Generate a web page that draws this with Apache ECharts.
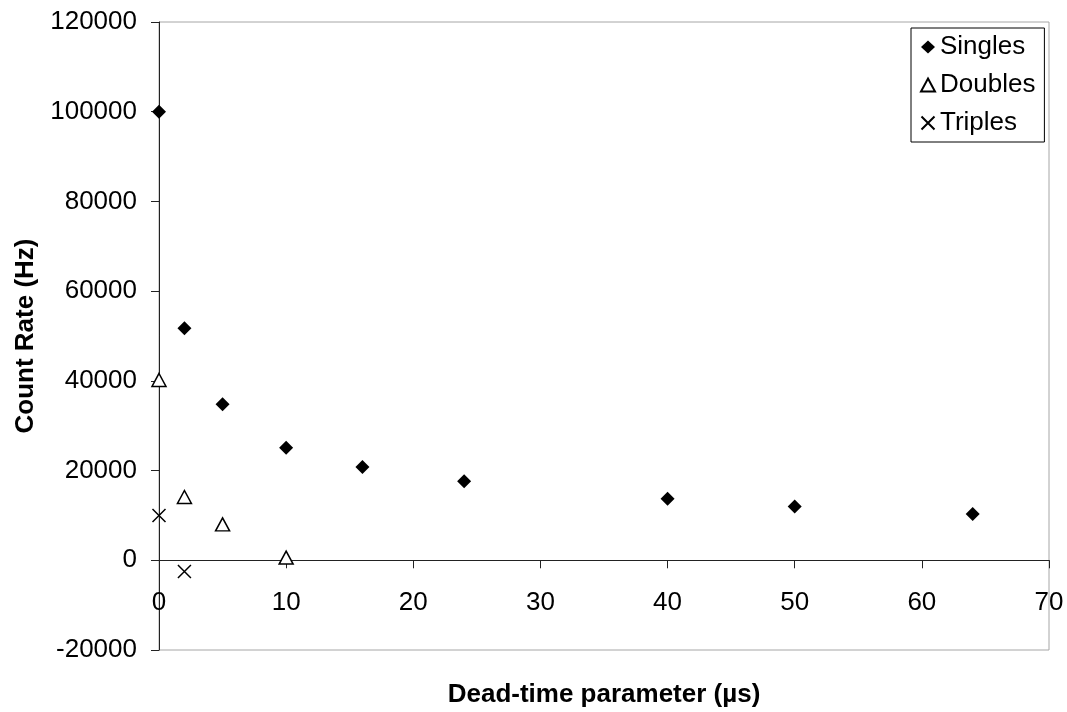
<!DOCTYPE html>
<html>
<head>
<meta charset="utf-8">
<title>Count rate vs dead-time parameter</title>
<script src="https://cdn.jsdelivr.net/npm/echarts@6/dist/echarts.min.js"></script>
<style>
  html, body { margin: 0; padding: 0; background: #fff; }
  #chart { width: 1067px; height: 712px; }
</style>
</head>
<body>
<div id="chart"></div>
<script>
// data
var seriesNames = ['Singles', 'Doubles', 'Triples'];
var singlesX = [0, 2, 5, 10, 16, 24, 40, 50, 64];
var singlesY = [100000, 51700, 34800, 25100, 20800, 17600, 13700, 12000, 10300];
var doublesX = [0, 2, 5, 10];
var doublesY = [40200, 14100, 8000, 600];
var triplesX = [0, 2];
var triplesY = [10000, -2500];

var xTicks = { min: 0, max: 70, step: 10 };
var yTicks = { min: -20000, max: 120000, step: 20000 };

var FONT = '"Liberation Sans", Arial, sans-serif';
var FS = 26;

function pairs (xs, ys) {
  var res = [];
  xs.forEach(function (x, i) {
    res.push([x, ys[i]]);
  });
  return res;
}

// plain numbers, no thousand separators
function plain (v) {
  return '' + v;
}

(function () {
  var myChart = echarts.init(document.getElementById('chart'), null, { renderer: 'canvas' });

  var axisCommon = {
    type: 'value',
    splitLine: { show: false },
    axisLine: { show: true, onZero: true, lineStyle: { color: '#222', width: 1 } },
    axisTick: { show: true, inside: false, length: 8, lineStyle: { color: '#222' } },
    nameLocation: 'middle',
    nameTextStyle: { fontFamily: FONT, fontSize: FS, fontWeight: 'bold', color: '#000' }
  };

  var option = {
    animation: false,
    backgroundColor: '#fff',
    grid: {
      left: 159, top: 22, right: 18, bottom: 62,
      containLabel: false,
      outerBoundsMode: 'none',
      show: true, borderColor: '#a6a6a6', borderWidth: 1
    },
    legend: {
      orient: 'vertical',
      left: 911, top: 28,
      padding: [6, 9, 6, 8],
      itemGap: 12,
      itemWidth: 14, itemHeight: 13,
      itemTextGap: 12,
      borderColor: '#000', borderWidth: 1,
      backgroundColor: '#fff',
      data: seriesNames,
      textStyle: { fontFamily: FONT, fontSize: FS, color: '#000', lineHeight: 26 }
    },
    // in v6 the labels and name stay at the grid bottom, the line sits on y = 0
    xAxis: echarts.util.merge({
      min: xTicks.min, max: xTicks.max, interval: xTicks.step,
      name: 'Dead-time parameter (\u00b5s)',
      nameGap: 32,
      axisLabel: { margin: -60, fontFamily: FONT, fontSize: FS, color: '#000', formatter: plain }
    }, axisCommon, false),
    yAxis: echarts.util.merge({
      min: yTicks.min, max: yTicks.max, interval: yTicks.step,
      name: 'Count Rate (Hz)',
      nameRotate: 90,
      nameGap: 120,
      axisLabel: { margin: 22, fontFamily: FONT, fontSize: FS, color: '#000', formatter: plain }
    }, axisCommon, false),
    series: [
      {
        name: 'Singles', type: 'scatter',
        symbol: 'diamond', symbolSize: 14,
        itemStyle: { color: '#000', opacity: 1 },
        data: pairs(singlesX, singlesY)
      },
      {
        name: 'Doubles', type: 'scatter',
        symbol: 'triangle', symbolSize: [14, 13],
        itemStyle: { color: '#fff', borderColor: '#000', borderWidth: 1.5, opacity: 1 },
        data: pairs(doublesX, doublesY)
      },
      {
        name: 'Triples', type: 'scatter',
        symbol: 'path://M0,0L10,10M10,0L0,10', symbolSize: 13,
        itemStyle: { color: 'none', borderColor: '#000', borderWidth: 1.5, opacity: 1 },
        data: pairs(triplesX, triplesY)
      }
    ]
  };

  myChart.setOption(option);
})();
</script>
</body>
</html>
